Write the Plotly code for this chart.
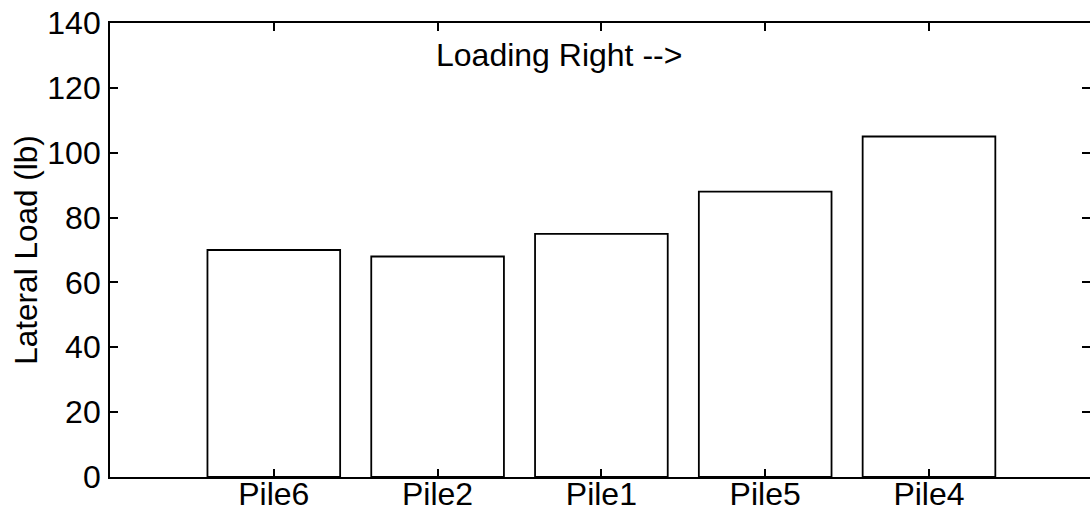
import plotly.graph_objects as go

categories = ["Pile6", "Pile2", "Pile1", "Pile5", "Pile4"]
lateral_load = [70, 68, 75, 88, 105]
y_ticks = [0, 20, 40, 60, 80, 100, 120, 140]
annotation_text = "Loading Right -->"

FONT = "Arial, Liberation Sans, sans-serif"
FS = 32

fig = go.Figure()
fig.add_trace(go.Bar(
    x=categories, y=lateral_load, width=0.81,
    marker=dict(color="white", line=dict(color="black", width=1.8)),
    showlegend=False,
))
fig.add_trace(go.Scatter(x=[categories[0]], y=[None], yaxis="y2",
                         mode="markers", showlegend=False, hoverinfo="skip"))

fig.add_annotation(x=categories[1], y=130, xref="x", yref="y", text=annotation_text,
                   showarrow=False, xanchor="left", yanchor="middle",
                   xshift=-4, font=dict(family=FONT, size=FS, color="black"))

fig.update_layout(
    width=1090, height=518,
    margin=dict(l=110, r=0, t=23, b=41),
    paper_bgcolor="white", plot_bgcolor="white",
    font=dict(family=FONT, size=FS, color="black"),
    xaxis=dict(
        type="category", categoryorder="array", categoryarray=categories,
        range=[-1, 4.983],
        showline=True, linecolor="black", linewidth=1.8, mirror="ticks",
        ticks="inside", ticklen=8, tickcolor="black", tickwidth=1.5,
        showgrid=False, zeroline=False,
        ticklabelstandoff=-12,
        tickfont=dict(family=FONT, size=FS, color="black"),
    ),
    yaxis=dict(
        range=[0, 140], tickvals=y_ticks,
        showline=True, linecolor="black", linewidth=1.8, mirror=False,
        ticks="inside", ticklen=8, tickcolor="black", tickwidth=1.5,
        showgrid=False, zeroline=False,
        ticklabelstandoff=1,
        tickfont=dict(family=FONT, size=FS, color="black"),
        title=dict(text="Lateral Load (lb)", standoff=0,
                   font=dict(family=FONT, size=31.5, color="black")),
    ),
    yaxis2=dict(
        overlaying="y", side="right", matches="y", range=[0, 140],
        tickvals=y_ticks, showticklabels=False, showline=False,
        ticks="inside", ticklen=8, tickcolor="black", tickwidth=1.5,
        showgrid=False, zeroline=False,
    ),
)

fig.write_html("out.html")
